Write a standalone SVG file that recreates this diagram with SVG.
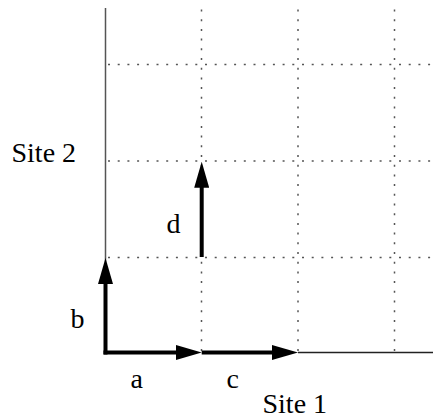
<svg xmlns="http://www.w3.org/2000/svg" width="433" height="419" viewBox="0 0 433 419">
<defs>
<style>
.grid{stroke:#555;stroke-width:1.5;stroke-dasharray:2 7.7;fill:none}
.axis{stroke:#555;stroke-width:1.5;fill:none}
.vec{stroke:#000;stroke-width:4;fill:none;marker-end:url(#ah)}
.lbl{font-family:"Liberation Serif","Times New Roman",serif;font-size:28px;fill:#000}
</style>
<marker id="ah" markerUnits="userSpaceOnUse" markerWidth="26" markerHeight="15" viewBox="0 0 26 15" refX="6" refY="7.5" orient="auto">
<path d="M0,0 L26,7.5 L0,15 z" fill="#000"/>
</marker>
</defs>
<rect width="433" height="419" fill="#fff"/>
<g id="grid">
<line class="grid" x1="201.5" y1="9.5" x2="201.5" y2="352"/>
<line class="grid" x1="298" y1="9.5" x2="298" y2="352"/>
<line class="grid" x1="394.5" y1="9.5" x2="394.5" y2="352"/>
<line class="grid" x1="108" y1="64.5" x2="433" y2="64.5"/>
<line class="grid" x1="108" y1="161" x2="433" y2="161"/>
<line class="grid" x1="108" y1="257.5" x2="433" y2="257.5"/>
</g>
<g id="axes">
<line class="axis" x1="105.5" y1="8" x2="105.5" y2="352"/>
<line class="axis" x1="298" y1="352.5" x2="433" y2="352.5" style="stroke:#222"/>
</g>
<g id="connectors">
<line id="vec-a" class="vec" x1="103.5" y1="352.5" x2="181.7" y2="352.5"/>
<line id="vec-c" class="vec" x1="201.7" y1="352.5" x2="278" y2="352.5"/>
<line id="vec-b" class="vec" x1="105.5" y1="354.5" x2="105.5" y2="278"/>
<line id="vec-d" class="vec" x1="201.7" y1="257" x2="201.7" y2="181.7"/>
</g>
<g id="labels">
<text class="lbl" x="11.5" y="162">Site 2</text>
<text class="lbl" x="262.5" y="413">Site 1</text>
<text class="lbl" x="130.5" y="388">a</text>
<text class="lbl" x="226.5" y="388">c</text>
<text class="lbl" x="70.5" y="328">b</text>
<text class="lbl" x="166.5" y="233">d</text>
</g>
</svg>
